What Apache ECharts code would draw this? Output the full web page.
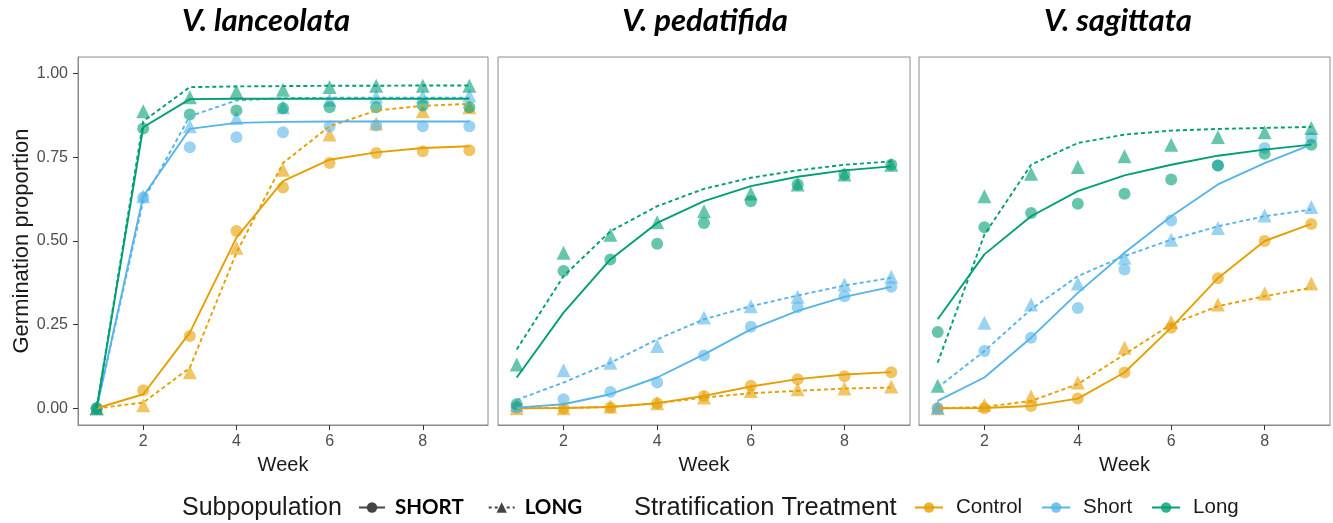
<!DOCTYPE html>
<html>
<head>
<meta charset="utf-8">
<script src="https://cdn.jsdelivr.net/npm/echarts@6/dist/echarts.min.js"></script>
<style>html,body{margin:0;padding:0;background:#fff}#c{width:1333px;height:523px}</style>
</head>
<body>
<div id="c"></div>
<script>
// ---------- data ----------
const weeks = [1, 2, 3, 4, 5, 6, 7, 8, 9];
const xTicks = [2, 4, 6, 8];
const yTicks = [0, 0.25, 0.5, 0.75, 1];
const speciesNames = ['V. lanceolata', 'V. pedatifida', 'V. sagittata'];
const treatments = ['Control', 'Short', 'Long'];
const subpops = ['SHORT', 'LONG'];

// V. lanceolata
const lan_Control_SHORT_obs = [0, 0.054, 0.216, 0.53, 0.66, 0.733, 0.763, 0.768, 0.771];
const lan_Control_SHORT_fit = [0, 0.042, 0.226, 0.51, 0.679, 0.743, 0.765, 0.778, 0.783];
const lan_Control_LONG_obs = [0, 0.009, 0.108, 0.48, 0.713, 0.818, 0.851, 0.888, 0.9];
const lan_Control_LONG_fit = [0, 0.017, 0.121, 0.465, 0.733, 0.843, 0.89, 0.904, 0.91];
const lan_Short_SHORT_obs = [0, 0.63, 0.78, 0.81, 0.825, 0.842, 0.845, 0.843, 0.843];
const lan_Short_SHORT_fit = [0, 0.634, 0.835, 0.853, 0.856, 0.857, 0.857, 0.857, 0.857];
const lan_Short_LONG_obs = [0, 0.634, 0.843, 0.868, 0.9, 0.922, 0.932, 0.932, 0.935];
const lan_Short_LONG_fit = [0, 0.62, 0.873, 0.92, 0.927, 0.928, 0.928, 0.928, 0.928];
const lan_Long_SHORT_obs = [0, 0.836, 0.878, 0.89, 0.897, 0.9, 0.9, 0.905, 0.9];
const lan_Long_SHORT_fit = [0, 0.84, 0.924, 0.925, 0.925, 0.925, 0.925, 0.925, 0.925];
const lan_Long_LONG_obs = [0, 0.888, 0.93, 0.947, 0.952, 0.96, 0.964, 0.964, 0.964];
const lan_Long_LONG_fit = [0, 0.858, 0.96, 0.962, 0.963, 0.964, 0.964, 0.965, 0.965];

// V. pedatifida
const ped_Control_SHORT_obs = [0.002, 0, 0.002, 0.015, 0.037, 0.067, 0.087, 0.096, 0.108];
const ped_Control_SHORT_fit = [0, 0.001, 0.004, 0.015, 0.037, 0.065, 0.087, 0.101, 0.108];
const ped_Control_LONG_obs = [0, 0, 0.005, 0.015, 0.032, 0.052, 0.057, 0.059, 0.065];
const ped_Control_LONG_fit = [0, 0.001, 0.004, 0.015, 0.032, 0.045, 0.052, 0.059, 0.062];
const ped_Short_SHORT_obs = [0.002, 0.027, 0.049, 0.077, 0.158, 0.244, 0.302, 0.335, 0.363];
const ped_Short_SHORT_fit = [0.002, 0.012, 0.042, 0.092, 0.161, 0.236, 0.291, 0.333, 0.363];
const ped_Short_LONG_obs = [0.01, 0.114, 0.136, 0.186, 0.271, 0.305, 0.333, 0.37, 0.393];
const ped_Short_LONG_fit = [0.025, 0.077, 0.136, 0.206, 0.266, 0.305, 0.337, 0.367, 0.39];
const ped_Long_SHORT_obs = [0.012, 0.41, 0.445, 0.492, 0.554, 0.619, 0.669, 0.699, 0.728];
const ped_Long_SHORT_fit = [0.092, 0.286, 0.445, 0.554, 0.619, 0.664, 0.692, 0.711, 0.723];
const ped_Long_LONG_obs = [0.131, 0.465, 0.519, 0.556, 0.589, 0.642, 0.669, 0.699, 0.728];
const ped_Long_LONG_fit = [0.176, 0.395, 0.529, 0.604, 0.656, 0.689, 0.711, 0.728, 0.738];

// V. sagittata
const sag_Control_SHORT_obs = [0, 0, 0.007, 0.029, 0.107, 0.241, 0.389, 0.5, 0.551];
const sag_Control_SHORT_fit = [0, 0.001, 0.007, 0.029, 0.107, 0.241, 0.389, 0.5, 0.551];
const sag_Control_LONG_obs = [0, 0.01, 0.035, 0.077, 0.181, 0.258, 0.31, 0.343, 0.373];
const sag_Control_LONG_fit = [0, 0.004, 0.022, 0.072, 0.161, 0.251, 0.305, 0.335, 0.36];
const sag_Short_SHORT_obs = [0, 0.171, 0.211, 0.3, 0.415, 0.561, 0.726, 0.778, 0.808];
const sag_Short_SHORT_fit = [0.022, 0.092, 0.211, 0.345, 0.465, 0.574, 0.669, 0.733, 0.788];
const sag_Short_LONG_obs = [0.002, 0.256, 0.31, 0.373, 0.45, 0.504, 0.539, 0.576, 0.602];
const sag_Short_LONG_fit = [0.062, 0.171, 0.296, 0.395, 0.455, 0.504, 0.544, 0.574, 0.594];
const sag_Long_SHORT_obs = [0.228, 0.541, 0.584, 0.611, 0.641, 0.684, 0.726, 0.761, 0.788];
const sag_Long_SHORT_fit = [0.266, 0.46, 0.574, 0.649, 0.696, 0.728, 0.755, 0.773, 0.788];
const sag_Long_LONG_obs = [0.067, 0.634, 0.701, 0.721, 0.753, 0.788, 0.811, 0.825, 0.838];
const sag_Long_LONG_fit = [0.136, 0.519, 0.728, 0.793, 0.818, 0.83, 0.835, 0.838, 0.841];

// ---------- assembly ----------
const DATA = [
  {Control:{SHORT:{obs:lan_Control_SHORT_obs,fit:lan_Control_SHORT_fit},LONG:{obs:lan_Control_LONG_obs,fit:lan_Control_LONG_fit}},
   Short:{SHORT:{obs:lan_Short_SHORT_obs,fit:lan_Short_SHORT_fit},LONG:{obs:lan_Short_LONG_obs,fit:lan_Short_LONG_fit}},
   Long:{SHORT:{obs:lan_Long_SHORT_obs,fit:lan_Long_SHORT_fit},LONG:{obs:lan_Long_LONG_obs,fit:lan_Long_LONG_fit}}},
  {Control:{SHORT:{obs:ped_Control_SHORT_obs,fit:ped_Control_SHORT_fit},LONG:{obs:ped_Control_LONG_obs,fit:ped_Control_LONG_fit}},
   Short:{SHORT:{obs:ped_Short_SHORT_obs,fit:ped_Short_SHORT_fit},LONG:{obs:ped_Short_LONG_obs,fit:ped_Short_LONG_fit}},
   Long:{SHORT:{obs:ped_Long_SHORT_obs,fit:ped_Long_SHORT_fit},LONG:{obs:ped_Long_LONG_obs,fit:ped_Long_LONG_fit}}},
  {Control:{SHORT:{obs:sag_Control_SHORT_obs,fit:sag_Control_SHORT_fit},LONG:{obs:sag_Control_LONG_obs,fit:sag_Control_LONG_fit}},
   Short:{SHORT:{obs:sag_Short_SHORT_obs,fit:sag_Short_SHORT_fit},LONG:{obs:sag_Short_LONG_obs,fit:sag_Short_LONG_fit}},
   Long:{SHORT:{obs:sag_Long_SHORT_obs,fit:sag_Long_SHORT_fit},LONG:{obs:sag_Long_LONG_obs,fit:sag_Long_LONG_fit}}}
];

const COLORS = {Control:'#E69F00', Short:'#56B4E9', Long:'#009E73'};
const SANS = 'Liberation Sans, Arial, sans-serif';
const gridLefts = [78, 498, 919];
const gridWidths = [410, 412, 411];
const titleX = [266, 705, 1118];

const grids = [], xAxes = [], yAxes = [], series = [];
for (let p = 0; p < 3; p++) {
  grids.push({left: gridLefts[p], top: 57, width: gridWidths[p], height: 368,
    show: true, borderColor: '#8a8a8a', borderWidth: 1, backgroundColor: 'transparent', containLabel: false});
  xAxes.push({gridIndex: p, type: 'value', min: 0.6, max: 9.4,
    axisLine: {show: true, onZero: false, lineStyle: {color: '#8a8a8a', width: 1}},
    splitLine: {show: false},
    axisTick: {show: true, length: 5, customValues: xTicks, lineStyle: {color: '#333'}},
    axisLabel: {customValues: xTicks, color: '#4d4d4d', fontSize: 16, fontFamily: SANS, margin: 9},
    name: 'Week', nameLocation: 'middle', nameGap: 30,
    nameTextStyle: {fontSize: 20, color: '#1a1a1a', fontFamily: SANS}});
  yAxes.push({gridIndex: p, type: 'value', min: -0.05, max: 1.05,
    axisLine: {show: p === 0, onZero: false, lineStyle: {color: '#8a8a8a', width: 1}},
    splitLine: {show: false},
    axisTick: {show: p === 0, length: 5, customValues: yTicks, lineStyle: {color: '#333'}},
    axisLabel: {show: p === 0, customValues: yTicks, color: '#4d4d4d', fontSize: 16, fontFamily: SANS, margin: 10,
      formatter: v => v.toFixed(2)},
    name: p === 0 ? 'Germination proportion' : '', nameLocation: 'middle', nameGap: 40,
    nameTextStyle: {fontSize: 22, color: '#1a1a1a', fontFamily: SANS}});
  for (const t of treatments) {
    for (const s of subpops) {
      const d = DATA[p][t][s];
      series.push({type: 'scatter', name: `${speciesNames[p]} ${t} ${s} obs`, xAxisIndex: p, yAxisIndex: p,
        symbol: s === 'SHORT' ? 'circle' : 'triangle', symbolSize: s === 'SHORT' ? 12 : 14,
        itemStyle: {color: COLORS[t], opacity: 0.6}, z: 2, silent: true,
        data: weeks.map((w, i) => [w, d.obs[i]])});
    }
  }
  for (const t of treatments) {
    for (const s of subpops) {
      const d = DATA[p][t][s];
      series.push({type: 'line', name: `${speciesNames[p]} ${t} ${s} fit`, xAxisIndex: p, yAxisIndex: p,
        symbol: 'none', z: 3, silent: true,
        lineStyle: {color: COLORS[t], width: 1.9, type: s === 'SHORT' ? 'solid' : [4, 3]},
        data: weeks.map((w, i) => [w, d.fit[i]])});
    }
  }
}
// legend-only series
series.push({type: 'line', name: 'SHORT', data: [], xAxisIndex: 0, yAxisIndex: 0, symbol: 'circle', symbolSize: 10,
  itemStyle: {color: '#444'}, lineStyle: {color: '#444', width: 2, type: 'solid'}});
series.push({type: 'line', name: 'LONG', data: [], xAxisIndex: 0, yAxisIndex: 0, symbol: 'triangle', symbolSize: 11,
  itemStyle: {color: '#444'}, lineStyle: {color: '#444', width: 2, type: [3, 3]}});
for (const t of treatments) {
  series.push({type: 'line', name: t, data: [], xAxisIndex: 0, yAxisIndex: 0, symbol: 'circle', symbolSize: 10,
    itemStyle: {color: COLORS[t], opacity: 0.8}, lineStyle: {color: COLORS[t], width: 2}});
}

const graphics = speciesNames.map((n, i) => ({type: 'text', x: titleX[i], y: 21,
  style: {text: n, fontFamily: 'Lato, sans-serif', fontSize: 31, fontWeight: 'bold', fontStyle: 'italic',
    fill: '#000', align: 'center', verticalAlign: 'middle'}}));
graphics.push({type: 'text', x: 182, y: 508, style: {text: 'Subpopulation', fontFamily: SANS, fontSize: 25,
  fill: '#1a1a1a', align: 'left', verticalAlign: 'middle'}});
graphics.push({type: 'text', x: 634, y: 508, style: {text: 'Stratification Treatment', fontFamily: SANS, fontSize: 25.5,
  fill: '#1a1a1a', align: 'left', verticalAlign: 'middle'}});

const chart = echarts.init(document.getElementById('c'), null, {renderer: 'canvas'});
chart.setOption({
  animation: false,
  backgroundColor: '#fff',
  grid: grids, xAxis: xAxes, yAxis: yAxes, series: series,
  graphic: graphics,
  legend: [
    {data: ['SHORT', 'LONG'], left: 358, top: 497, padding: 0, itemWidth: 26, itemHeight: 13, itemGap: 24,
      selectedMode: false,
      textStyle: {fontFamily: 'Lato, sans-serif', fontWeight: 'bold', fontSize: 20.5, color: '#000', padding: [0, 0, 0, 5]}},
    {data: ['Control', 'Short', 'Long'], left: 914, top: 497, padding: 0, itemWidth: 28, itemHeight: 13, itemGap: 19,
      selectedMode: false,
      textStyle: {fontFamily: SANS, fontSize: 20.5, color: '#1a1a1a', padding: [0, 0, 0, 8]}}
  ]
});
</script>
</body>
</html>
